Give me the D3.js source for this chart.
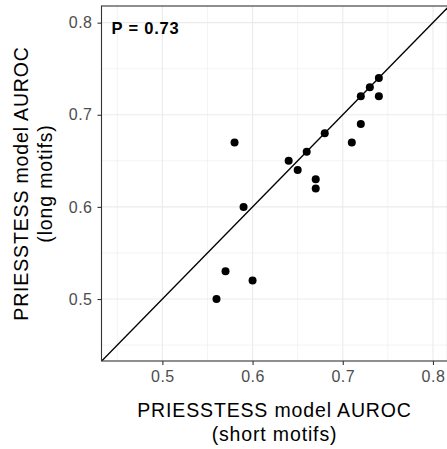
<!DOCTYPE html>
<html>
<head>
<meta charset="utf-8">
<script src="https://cdn.jsdelivr.net/npm/d3@7"></script>
<style>
  body { margin: 0; background: #fff; }
  svg { display: block; font-family: "Liberation Sans", Arial, sans-serif; }
</style>
</head>
<body>
<div id="chart"></div>
<script>
// AUROC per model: short motifs (x) vs long motifs (y)
const shortMotifs = [0.56, 0.57, 0.60, 0.59, 0.58, 0.64, 0.65, 0.66, 0.67, 0.67, 0.68, 0.71, 0.72, 0.72, 0.73, 0.74, 0.74];
const longMotifs  = [0.50, 0.53, 0.52, 0.60, 0.67, 0.65, 0.64, 0.66, 0.63, 0.62, 0.68, 0.67, 0.69, 0.72, 0.73, 0.74, 0.72];
const majorTicks = [0.5, 0.6, 0.7, 0.8];
const minorTicks = [0.45, 0.55, 0.65, 0.75];
const pLabel = "P = 0.73";

const width = 447, height = 449;
const pLeft = 101.5, pRight = 447.5, pTop = 6, pBottom = 361;

const x = d3.scaleLinear().domain([0.4325, 0.8161]).range([pLeft, pRight]);
const y = d3.scaleLinear().domain([0.4327, 0.8181]).range([pBottom, pTop]);

const svg = d3.select("#chart").append("svg")
    .attr("width", width).attr("height", height);

svg.append("defs").append("clipPath").attr("id", "panel")
  .append("rect").attr("x", pLeft).attr("y", pTop)
  .attr("width", pRight - pLeft).attr("height", pBottom - pTop);

const grid = svg.append("g").attr("clip-path", "url(#panel)");

// minor grid
grid.selectAll(".vminor").data(minorTicks).enter().append("line")
    .attr("x1", d => x(d)).attr("x2", d => x(d)).attr("y1", pTop).attr("y2", pBottom)
    .attr("stroke", "#ebebeb").attr("stroke-width", 0.6);
grid.selectAll(".hminor").data(minorTicks).enter().append("line")
    .attr("y1", d => y(d)).attr("y2", d => y(d)).attr("x1", pLeft).attr("x2", pRight)
    .attr("stroke", "#ebebeb").attr("stroke-width", 0.6);
// major grid
grid.selectAll(".vmajor").data(majorTicks).enter().append("line")
    .attr("x1", d => x(d)).attr("x2", d => x(d)).attr("y1", pTop).attr("y2", pBottom)
    .attr("stroke", "#ebebeb").attr("stroke-width", 1.1);
grid.selectAll(".hmajor").data(majorTicks).enter().append("line")
    .attr("y1", d => y(d)).attr("y2", d => y(d)).attr("x1", pLeft).attr("x2", pRight)
    .attr("stroke", "#ebebeb").attr("stroke-width", 1.1);

// identity line
const dom = x.domain();
grid.append("line")
    .attr("x1", x(dom[0])).attr("y1", y(dom[0]))
    .attr("x2", x(dom[1])).attr("y2", y(dom[1]))
    .attr("stroke", "#000").attr("stroke-width", 1.4);

// points
grid.selectAll("circle").data(d3.range(shortMotifs.length)).enter().append("circle")
    .attr("cx", i => x(shortMotifs[i]))
    .attr("cy", i => y(longMotifs[i]))
    .attr("r", 4)
    .attr("fill", "#000");

// annotation
svg.append("text")
    .attr("x", 111.5).attr("y", 33.5)
    .attr("font-size", 16.5).attr("font-weight", "bold")
    .attr("letter-spacing", 0.8)
    .attr("fill", "#000")
    .text(pLabel);

// panel border
svg.append("rect")
    .attr("x", pLeft).attr("y", pTop)
    .attr("width", pRight - pLeft).attr("height", pBottom - pTop)
    .attr("fill", "none").attr("stroke", "#333").attr("stroke-width", 1.1);

// axes
const xAxis = svg.append("g")
    .attr("transform", `translate(0,${pBottom})`)
    .call(d3.axisBottom(x).tickValues(majorTicks).tickSize(4).tickPadding(6).tickFormat(d3.format(".1f")));
const yAxis = svg.append("g")
    .attr("transform", `translate(${pLeft},0)`)
    .call(d3.axisLeft(y).tickValues(majorTicks).tickSize(4).tickPadding(5).tickFormat(d3.format(".1f")));
[xAxis, yAxis].forEach(a => {
    a.select(".domain").remove();
    a.selectAll(".tick line").attr("stroke", "#333").attr("stroke-width", 1.1);
    a.selectAll(".tick text").attr("fill", "#4d4d4d").attr("font-size", 16)
        .attr("letter-spacing", 0.5)
        .attr("font-family", "Liberation Sans, Arial, sans-serif");
});

// axis titles
const cx = (pLeft + pRight) / 2;
const titleAttrs = t => t.attr("text-anchor", "middle").attr("font-size", 19.5)
    .attr("letter-spacing", 0.85).attr("fill", "#000");
svg.append("text").attr("x", cx).attr("y", 417.3).call(titleAttrs)
    .text("PRIESSTESS model AUROC");
svg.append("text").attr("x", cx).attr("y", 441).call(titleAttrs)
    .text("(short motifs)");

const cy = (pTop + pBottom) / 2;
svg.append("text").attr("transform", `translate(28.3,${cy}) rotate(-90)`).call(titleAttrs)
    .text("PRIESSTESS model AUROC");
svg.append("text").attr("transform", `translate(52.3,${cy}) rotate(-90)`).call(titleAttrs)
    .text("(long motifs)");
</script>
</body>
</html>
